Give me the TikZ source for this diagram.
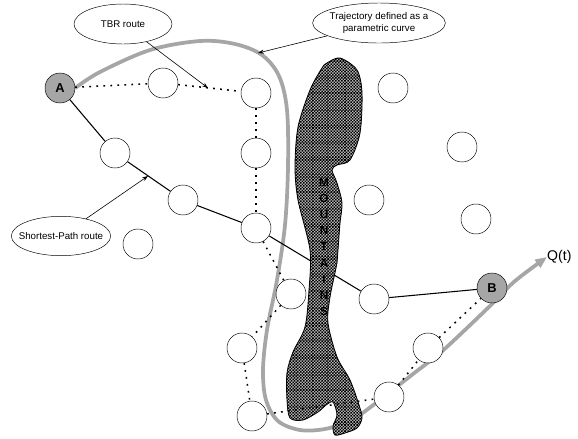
\documentclass[tikz,border=0pt]{standalone}
\usepackage{fontspec}
\setmainfont{Liberation Sans}
\usetikzlibrary{shapes.geometric, arrows.meta, patterns, backgrounds}
\tikzset{>=Stealth}

% small checks for the mountain
\pgfdeclarepatternformonly{finechecker}{\pgfqpoint{-1pt}{-1pt}}{\pgfqpoint{2.6pt}{2.6pt}}{\pgfqpoint{2.6pt}{2.6pt}}{%
  \pgfpathrectangle{\pgfqpoint{0pt}{0pt}}{\pgfqpoint{1.35pt}{1.35pt}}%
  \pgfpathrectangle{\pgfqpoint{1.3pt}{1.3pt}}{\pgfqpoint{1.35pt}{1.35pt}}%
  \pgfusepath{fill}}

\tikzset{
  station/.style={circle, draw, fill=white, minimum size=0.9cm, inner sep=0pt},
  endpoint/.style={station, fill=gray!70, font=\bfseries\fontsize{11}{13}\selectfont},
  callout/.style={ellipse, draw, fill=white, inner ysep=0pt, align=center,
    font=\fontsize{8.3}{9.6}\selectfont},
  shortest/.style={line width=0.9pt},
  tbrroute/.style={line width=1.3pt, dash pattern=on 1.5pt off 4.5pt},
  pointer/.style={->, line width=0.5pt, >={Stealth[length=5pt,width=3.5pt]}},
  trajectory/.style={gray!70, line width=3.2pt, -{Triangle[length=10pt,width=8pt]}},
}

\begin{document}
\begin{tikzpicture}[x=0.03cm, y=-0.03cm]
    \useasboundingbox (0,0) rectangle (578,438);

    % start, goal and waypoints
    \node[endpoint] (A) at (60,88) {A};
    \node[endpoint] (B) at (492,288) {B};
    \node[station] (t1) at (163,83) {};
    \node[station] (t2) at (256,93) {};
    \node[station] (t3) at (256,153) {};
    \node[station] (m1) at (256,228) {};
    \node[station] (t4) at (291,294) {};
    \node[station] (t5) at (242,348) {};
    \node[station] (t6) at (252,416) {};
    \node[station] (t7) at (389,397) {};
    \node[station] (t8) at (428,348) {};
    \node[station] (p1) at (115,153) {};
    \node[station] (p2) at (183,200) {};
    \node[station] (p3) at (374,299) {};
    \node[station] (o1) at (138,244) {};
    \node[station] (o2) at (393,88) {};
    \node[station] (o3) at (462,147) {};
    \node[station] (o4) at (369,200) {};
    \node[station] (o5) at (476,219) {};

    \node[right, inner sep=0pt, font=\fontsize{12}{14}\selectfont] (Q) at (547,257) {Q(t)};

    \begin{pgfonlayer}{background}
    % parametric trajectory
    \draw[trajectory] plot[smooth, tension=0.55] coordinates {(A.east) (100,72) (150,50) (200,41)
        (235,44) (262,55) (279,76) (287,110) (288,167) (285,225) (277,280) (267,330)
        (263,370) (266,400) (278,421) (300,430) (325,429) (350,421) (372,406) (413,374)
        (440,353) (467,328) (493,303) (515,281) (Q.west)};

    % shortest path
    \draw[shortest] (A) -- (p1);
    \draw[shortest] (p1) -- (p2);
    \draw[shortest] (p2) -- (m1);
    \draw[shortest] (m1) -- (p3);
    \draw[shortest] (p3) -- (B);

    % mountain
    \draw[line width=0.7pt, fill=gray!45, postaction={pattern=finechecker}]
        plot[smooth cycle, tension=0.5] coordinates {(340,58) (357,70) (362,93) (360,133)
        (350,160) (337,165) (332,170) (337,183) (342,203) (340,223) (338,250) (337,263)
        (330,297) (328,323) (337,357) (350,380) (359,405) (362,418) (357,428) (345,433)
        (335,435) (333,426) (337,415) (333,402) (326,405) (318,412) (303,420) (290,418)
        (287,400) (287,373) (293,352) (305,327) (309,290) (310,250) (298,200) (295,167)
        (298,127) (310,90) (322,68) (327,63)};
    \end{pgfonlayer}

    \node[inner sep=0pt, align=center, font=\bfseries\fontsize{10}{13.8}\selectfont] (mtn) at (324,247)
        {M\\O\\U\\N\\T\\A\\I\\N\\S};

    % TBR route
    \foreach \a/\b in {A/t1, t1/t2, t2/t3, t3/m1, m1/t4, t4/t5, t5/t6, t6/t7, t7/t8, t8/B}
        \draw[tbrroute] (\a) -- (\b);

    % callouts
    \node[callout, minimum width=2.94cm, minimum height=1.2cm] (tbr) at (123,24) {TBR route};
    \node[callout, inner xsep=-2pt, minimum width=3.84cm, minimum height=1.2cm] (traj) at (379,23)
        {Trajectory defined as a\\parametric curve};
    \node[callout, inner xsep=-6pt, minimum width=2.94cm, minimum height=1.18cm] (sp) at (61,236)
        {Shortest-Path route};

    \coordinate (tbrtip) at (208,88);
    \coordinate (trajtip) at (258,53);
    \coordinate (sptip) at (148,176);
    \draw[pointer] (tbr) -- (tbrtip);
    \draw[pointer] (traj) -- (trajtip);
    \draw[pointer] (sp) -- (sptip);
\end{tikzpicture}
\end{document}
